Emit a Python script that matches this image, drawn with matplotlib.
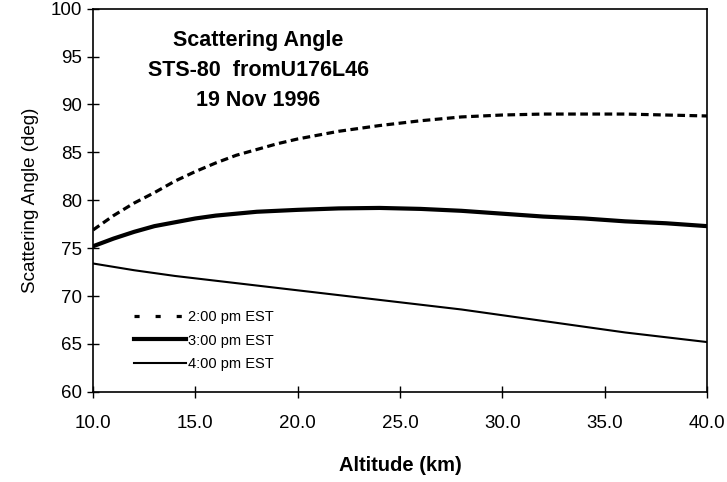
import matplotlib
matplotlib.use("Agg")
import matplotlib.pyplot as plt
from matplotlib.lines import Line2D

# ---- data ----
alt_2pm = [10, 11, 12, 13, 14, 15, 16, 17, 18, 19, 20, 22, 24, 26, 28, 30, 32, 34, 36, 38, 40]
ang_2pm = [76.9, 78.4, 79.7, 80.8, 82.0, 83.0, 83.9, 84.7, 85.3, 85.9, 86.4, 87.2, 87.8, 88.3,
           88.7, 88.9, 89.0, 89.0, 89.0, 88.9, 88.8]

alt_3pm = [10, 11, 12, 13, 14, 15, 16, 17, 18, 19, 20, 22, 24, 26, 28, 30, 32, 34, 36, 38, 40]
ang_3pm = [75.2, 76.0, 76.7, 77.3, 77.7, 78.1, 78.4, 78.6, 78.8, 78.9, 79.0, 79.15, 79.2, 79.1,
           78.9, 78.6, 78.3, 78.1, 77.8, 77.6, 77.3]

alt_4pm = [10, 12, 14, 16, 18, 20, 22, 24, 26, 28, 30, 32, 34, 36, 38, 40]
ang_4pm = [73.4, 72.7, 72.1, 71.6, 71.1, 70.6, 70.1, 69.6, 69.1, 68.6, 68.0, 67.4, 66.8, 66.2,
           65.7, 65.2]

series_labels = ["2:00 pm EST", "3:00 pm EST", "4:00 pm EST"]
x_ticks = [10, 15, 20, 25, 30, 35, 40]
y_ticks = [60, 65, 70, 75, 80, 85, 90, 95, 100]
title_lines = "Scattering Angle\nSTS-80  fromU176L46\n19 Nov 1996"

plt.rcParams['font.family'] = ['Liberation Sans', 'DejaVu Sans']

fig = plt.figure(figsize=(7.27, 4.82), dpi=100)
ax = fig.add_axes([0.128, 0.187, 0.8445, 0.795])

ax.plot(alt_2pm, ang_2pm, color='black', lw=2.3, linestyle=(0, (2.4, 1.4)))
ax.plot(alt_3pm, ang_3pm, color='black', lw=3.0)
ax.plot(alt_4pm, ang_4pm, color='black', lw=1.5)

ax.set_xlim(10, 40)
ax.set_ylim(60, 100)
ax.set_xticks(x_ticks)
ax.set_xticklabels([f"{v:.1f}" for v in x_ticks])
ax.set_yticks(y_ticks)
ax.set_yticklabels([str(v) for v in y_ticks])
ax.tick_params(direction='inout', length=8, width=1, labelsize=13.5, color='black')
ax.tick_params(axis='x', pad=13)
ax.tick_params(axis='y', pad=4)
for s in ax.spines.values():
    s.set_linewidth(1.2)

ax.set_xlabel("Altitude (km)", fontsize=14.5, fontweight='bold', labelpad=17)
ax.set_ylabel("Scattering Angle (deg)", fontsize=13.5, fontstretch='condensed',
              family=['Liberation Sans Narrow', 'Liberation Sans', 'DejaVu Sans'], labelpad=8)

ax.text(0.269, 0.945, title_lines, transform=ax.transAxes, ha='center', va='top',
        fontsize=15.5, fontweight='bold', linespacing=1.58)

handles = [
    Line2D([], [], color='black', lw=2.3, linestyle=(0, (1.6, 5.0))),
    Line2D([], [], color='black', lw=3.0),
    Line2D([], [], color='black', lw=1.5),
]
leg = ax.legend(handles, series_labels, loc='lower left', bbox_to_anchor=(0.045, 0.02),
                frameon=False, fontsize=10.5, handlelength=3.6, handletextpad=0.1,
                labelspacing=0.65)

fig.savefig("out.png", dpi=100)
